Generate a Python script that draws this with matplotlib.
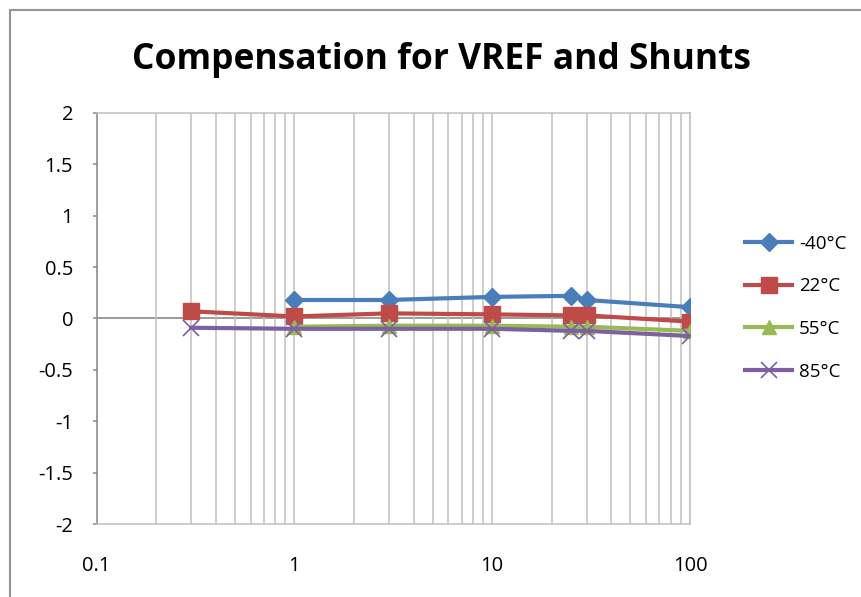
# Compensation for VREF and Shunts - excel style log chart
import matplotlib
matplotlib.use('Agg')
import matplotlib.pyplot as plt
from matplotlib.patches import Rectangle
from matplotlib.ticker import FixedLocator, LogLocator, NullFormatter

# data
x_m40 = [1, 3, 10, 25, 30, 100]
y_m40 = [0.18, 0.18, 0.21, 0.22, 0.18, 0.11]
x_22 = [0.3, 1, 3, 10, 25, 30, 100]
y_22 = [0.07, 0.02, 0.05, 0.04, 0.03, 0.03, -0.03]
x_55 = [1, 3, 10, 25, 30, 100]
y_55 = [-0.08, -0.07, -0.07, -0.08, -0.08, -0.12]
x_85 = [0.3, 1, 3, 10, 25, 30, 100]
y_85 = [-0.09, -0.10, -0.10, -0.10, -0.12, -0.12, -0.17]

yticks = [-2, -1.5, -1, -0.5, 0, 0.5, 1, 1.5, 2]
ytick_labels = ['-2', '-1.5', '-1', '-0.5', '0', '0.5', '1', '1.5', '2']
xticks = [0.1, 1, 10, 100]
xtick_labels = ['0.1', '1', '10', '100']

font = ['Open Sans', 'DejaVu Sans']
plt.rcParams['font.family'] = font

W, H = 862, 597
fig = plt.figure(figsize=(W / 100, H / 100), dpi=100)

# outer chart border (runs off the right/bottom edge like the screenshot)
fig.patches.append(Rectangle((10 / W, -0.05), 1.05, 1 - 10 / H + 0.05,
                             transform=fig.transFigure, fill=False,
                             edgecolor='#969696', lw=1.5))

ax = fig.add_axes([96.7 / W, 1 - 524.3 / H, (690 - 96.7) / W, (524.3 - 112.7) / H])
ax.set_xscale('log')
ax.set_xlim(0.1, 100)
ax.set_ylim(-2, 2)

ax.xaxis.set_major_locator(FixedLocator(xticks))
ax.xaxis.set_minor_locator(LogLocator(base=10, subs=range(2, 10)))
ax.xaxis.set_minor_formatter(NullFormatter())
ax.set_xticks(xticks)
ax.set_xticklabels(xtick_labels)
ax.set_yticks(yticks)
ax.set_yticklabels(ytick_labels)
ax.tick_params(axis='both', labelsize=14.5, colors='black')
ax.tick_params(axis='x', which='both', length=0, pad=23)
ax.tick_params(axis='y', length=3, width=1.1, color='#8a8a8a', pad=14)

ax.grid(True, axis='x', which='both', color='#c0c0c0', lw=1.1)
for sp in ax.spines.values():
    sp.set_color('#c0c0c0')
    sp.set_linewidth(1.1)
ax.spines['left'].set_color('#8a8a8a')
ax.spines['left'].set_zorder(2)
ax.axhline(0, color='#8a8a8a', lw=1.2, zorder=1.5)

ax.plot(x_m40, y_m40, color='#4a7ebb', lw=3, marker='D', ms=9.5, label='-40°C', zorder=3)
ax.plot(x_22, y_22, color='#be4b48', lw=3, marker='s', ms=12, label='22°C', zorder=3)
ax.plot(x_55, y_55, color='#98b954', lw=3, marker='^', ms=10, label='55°C', zorder=3)
ax.plot(x_85, y_85, color='#7d60a0', lw=3, marker='x', ms=11, mew=1.2, label='85°C', zorder=3)

leg = fig.legend(loc='upper left', bbox_to_anchor=(738 / W, 1 - 227 / H),
                 frameon=False, fontsize=13.5, labelspacing=1.32,
                 handlelength=2.5, handletextpad=0.35, borderaxespad=0)

fig.text(442 / W, 1 - 60 / H, 'Compensation for VREF and Shunts',
         ha='center', va='center', fontsize=25.5, fontweight='bold')

fig.savefig('out.png', dpi=100)
